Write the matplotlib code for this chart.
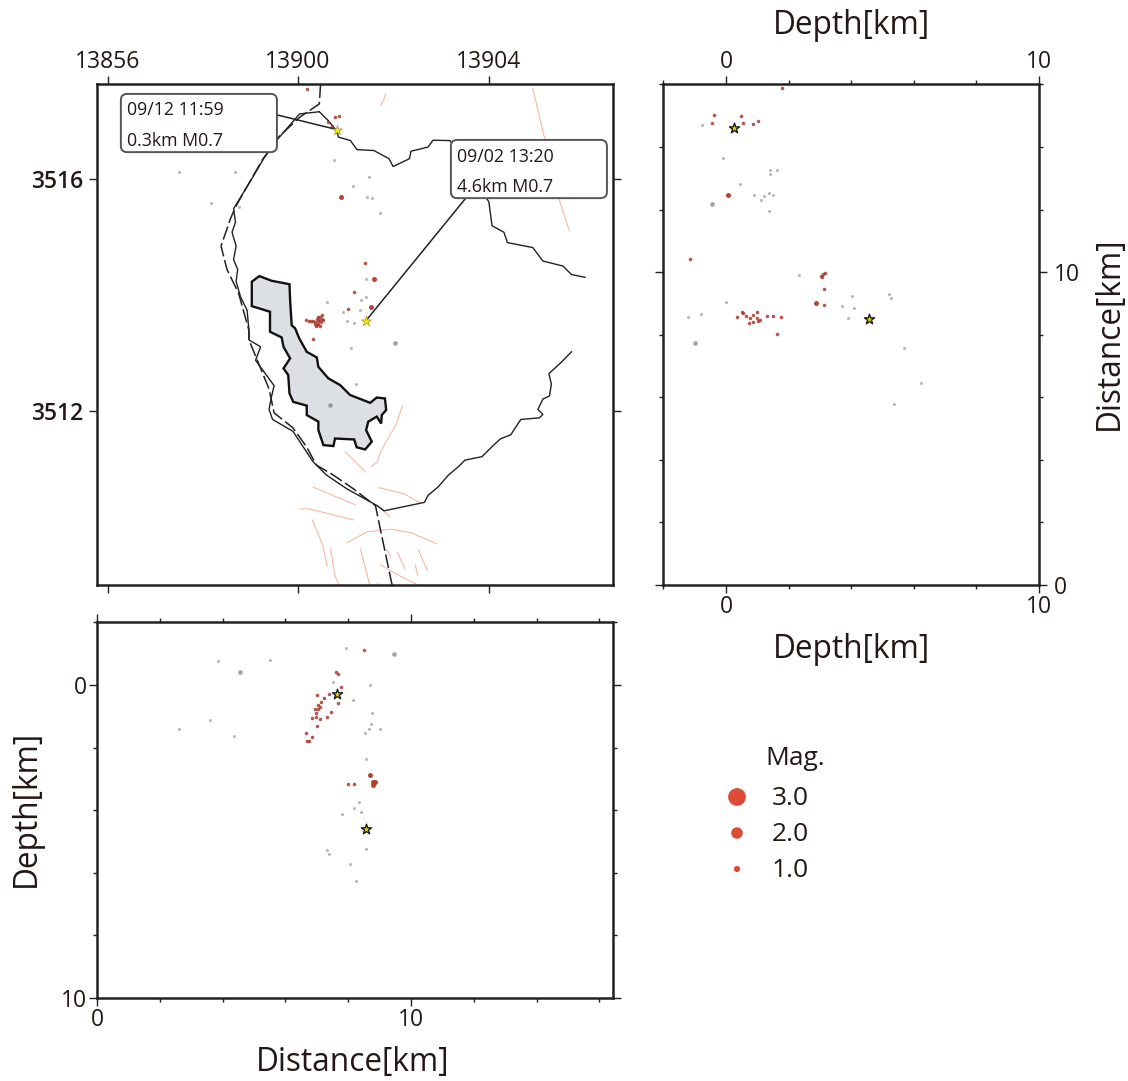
import matplotlib
matplotlib.use('Agg')
import matplotlib.pyplot as plt
from matplotlib.patches import FancyBboxPatch, Polygon

plt.rcParams['font.family'] = ['Open Sans', 'DejaVu Sans']
ink = '#231815'

W, H = 1128, 1081
KM_X = 31.4
KM_Y = 31.3

# map outlines, km from the lower left corner of the map
coast_x = [7.08, 6.45, 5.75, 5.32, 5.16, 4.84, 4.35, 4.41, 4.30, 4.43, 4.35, 4.48, 4.43, 4.57, 4.78, 4.84, 4.84, 5.21, 5.05, 5.64, 5.54, 5.48, 5.59, 6.24, 6.88, 7.31, 7.96, 8.93, 9.14, 10.43, 10.54, 10.86, 11.19, 11.51, 11.72, 12.26, 12.58, 12.85, 13.18, 13.28, 13.50, 14.09, 14.20, 14.04, 14.20, 14.41, 14.47, 14.39, 14.79, 15.11]
coast_y = [15.12, 15.05, 14.24, 13.64, 13.37, 12.83, 12.02, 11.59, 11.27, 10.83, 10.40, 10.08, 9.70, 9.21, 8.78, 8.13, 7.83, 7.61, 7.18, 6.37, 5.94, 5.61, 5.29, 4.91, 3.94, 3.51, 3.07, 2.53, 2.37, 2.64, 2.86, 3.13, 3.51, 3.78, 3.99, 4.10, 4.42, 4.67, 4.80, 4.96, 5.29, 5.34, 5.45, 5.61, 5.94, 6.04, 6.42, 6.75, 7.12, 7.45]
north_x = [7.08, 7.37, 7.63, 7.69, 8.07, 8.28, 8.82, 9.30, 9.43, 9.95, 10.00, 10.54, 10.70, 11.24, 12.48, 12.58, 12.96, 13.07, 13.88, 14.20, 14.84, 15.11, 15.54]
north_y = [15.12, 14.83, 14.51, 14.31, 14.20, 13.91, 13.88, 13.62, 13.37, 13.62, 13.86, 13.99, 14.21, 14.20, 12.24, 11.48, 11.27, 10.94, 10.78, 10.35, 10.19, 9.92, 9.83]
border_x = [7.12, 7.08, 6.45, 5.81, 5.27, 4.41, 4.25, 3.95, 4.14, 4.51, 4.84, 4.84, 5.48, 5.64, 6.24, 6.67, 6.99, 7.53, 8.17, 8.87, 8.98, 9.41]
border_y = [16.0, 15.37, 14.94, 14.34, 13.59, 12.08, 11.70, 10.83, 10.08, 9.32, 8.13, 7.83, 6.26, 5.50, 5.02, 4.42, 3.83, 3.51, 3.07, 2.53, 1.99, -0.06]
area_x = [4.93, 5.17, 5.56, 6.13, 6.15, 6.20, 6.31, 6.44, 6.68, 7.0, 7.05, 7.37, 7.74, 8.06, 8.70, 8.91, 9.17, 9.21, 9.07, 9.05, 8.91, 8.64, 8.57, 8.75, 8.54, 8.27, 8.19, 7.58, 7.53, 7.21, 7.05, 7.05, 6.68, 6.68, 6.25, 6.13, 6.09, 5.94, 6.15, 5.94, 5.88, 5.51, 5.51, 4.93]
area_y = [9.69, 9.87, 9.72, 9.61, 9.10, 8.30, 8.20, 7.88, 7.45, 7.27, 6.97, 6.60, 6.39, 6.07, 5.82, 5.99, 5.96, 5.59, 5.43, 5.16, 5.38, 5.22, 4.95, 4.58, 4.33, 4.40, 4.65, 4.68, 4.44, 4.47, 4.95, 5.22, 5.43, 5.73, 5.85, 6.12, 6.71, 6.92, 7.24, 7.61, 7.91, 8.09, 8.73, 8.91]
faults = [
    ([13.88, 14.25, 14.74, 15.04], [15.86, 14.29, 12.24, 11.32]),
    ([9.20, 9.05], [15.69, 15.32]),
    ([9.73, 9.52, 9.03, 8.93, 8.73], [5.72, 5.12, 4.26, 3.94, 3.78]),
    ([7.90, 8.55], [4.26, 3.61]),
    ([6.88, 8.23], [3.13, 2.56]),
    ([6.45, 6.77, 8.17], [2.43, 2.43, 2.08]),
    ([8.98, 9.79, 10.27], [3.11, 2.91, 2.64]),
    ([8.93, 9.34], [2.53, 2.18]),
    ([7.96, 8.60, 9.36, 10.0, 10.81], [1.35, 1.70, 1.78, 1.67, 1.32]),
    ([6.86, 7.20, 7.33], [2.08, 1.24, 0.59]),
    ([7.44, 7.58, 7.76], [1.15, 0.27, -0.1]),
    ([8.39, 8.71], [1.15, -0.1]),
    ([9.57, 9.81], [1.04, 0.51]),
    ([10.24, 10.52], [1.11, 0.46]),
    ([10.13, 10.22], [0.64, 0.29]),
    ([9.03, 9.79, 10.43], [0.64, 0.21, -0.1]),
    ([8.93, 9.12], [0.05, -0.1]),
    ([9.23, 9.34], [1.13, 0.91]),
]

# events on the map
map_red_x = [6.70, 7.58, 7.72, 7.37, 7.47, 8.52, 8.19, 7.99, 6.88, 6.67, 6.83, 6.94, 7.04, 7.15, 7.20, 7.01, 7.10, 6.97, 7.12, 7.08, 7.0, 6.95, 7.05, 7.15, 7.05, 7.10, 6.88, 6.75]
map_red_y = [15.86, 14.96, 14.98, 14.78, 14.67, 10.29, 9.37, 8.81, 7.86, 8.46, 8.44, 8.40, 8.57, 8.62, 8.46, 8.30, 8.26, 8.26, 8.40, 8.48, 8.51, 8.35, 8.35, 8.50, 8.45, 8.55, 8.42, 8.45]
map_red_big_x = [7.77, 8.82, 8.73]
map_red_big_y = [12.40, 9.78, 8.87]
map_gray_x = [2.61, 4.39, 3.63, 4.51, 7.55, 8.66, 8.15, 8.60, 8.76, 9.01, 8.58, 8.57, 8.42, 7.31, 8.39, 7.82, 7.96, 8.19, 8.09, 8.26]
map_gray_y = [13.21, 13.18, 12.22, 12.08, 13.59, 13.05, 12.76, 12.40, 12.37, 11.89, 9.79, 9.19, 9.11, 9.05, 8.78, 8.73, 8.43, 8.38, 7.56, 6.42]
map_gray_big_x = [9.50, 7.42]
map_gray_big_y = [7.72, 5.75]
map_star_x = [7.64, 8.57]
map_star_y = [14.55, 8.45]

# events, depth against north-south distance
ns_red_d = [1.78, -0.38, 0.47, -0.44, 0.55, 0.87, 1.01, -1.16, 3.06, 3.11, 3.02, 3.16, 3.12, 3.12, 1.0, 0.50, 0.55, 0.63, 0.85, 0.34, 0.77, 0.98, 0.73, 0.87, 1.03, 1.08, 1.32, 1.50, 1.77, 1.62]
ns_red_y = [15.90, 15.04, 15.0, 14.77, 14.77, 14.75, 14.82, 10.43, 9.85, 9.93, 9.87, 9.97, 9.47, 8.94, 8.73, 8.73, 8.68, 8.60, 8.62, 8.56, 8.52, 8.52, 8.39, 8.41, 8.44, 8.46, 8.61, 8.59, 8.57, 8.02]
ns_red_big_d = [0.07, 2.86]
ns_red_big_y = [12.48, 9.0]
ns_gray_d = [-0.78, -0.11, 1.40, 1.40, 1.62, 0.45, 0.89, 1.21, 1.38, 1.51, 1.12, 1.37, 2.34, 4.03, 5.22, 5.26, 3.72, 4.10, 3.91, -0.01, -1.20, -0.81, 5.70, 6.22, 5.38]
ns_gray_y = [14.71, 13.66, 13.28, 13.13, 13.26, 12.83, 12.46, 12.43, 12.54, 12.48, 12.30, 11.97, 9.90, 9.24, 9.31, 9.18, 8.91, 8.87, 8.52, 9.04, 8.57, 8.65, 7.57, 6.46, 5.80]
ns_gray_big_d = [-0.46, -0.99]
ns_gray_big_y = [12.19, 7.73]
ns_star_d = [0.26, 4.56]
ns_star_y = [14.6, 8.49]

# events, east-west distance against depth
ew_red_x = [8.49, 7.62, 7.69, 7.76, 7.02, 7.40, 7.24, 7.67, 7.13, 7.05, 7.11, 6.95, 7.05, 6.98, 7.44, 7.32, 6.86, 6.97, 7.11, 7.0, 6.67, 6.86, 6.68, 6.76, 7.98, 8.19]
ew_red_d = [-1.13, -0.43, -0.36, 0.07, 0.33, 0.28, 0.40, 0.58, 0.53, 0.64, 0.71, 0.77, 0.77, 0.90, 0.86, 1.02, 1.05, 1.03, 1.09, 1.32, 1.52, 1.65, 1.80, 1.80, 3.15, 3.15]
ew_red_big_x = [8.70, 8.78, 8.84, 8.79]
ew_red_big_d = [2.89, 3.09, 3.09, 3.19]
ew_gray_x = [3.85, 5.51, 7.93, 7.53, 8.70, 8.15, 8.75, 8.72, 8.67, 9.0, 8.54, 3.61, 2.61, 4.37, 8.57, 8.35, 8.17, 8.40, 7.80, 8.56, 7.31, 7.40, 8.07, 8.25]
ew_gray_d = [-0.77, -0.79, -1.17, -0.08, 0.0, 0.48, 0.90, 1.26, 1.41, 1.39, 1.52, 1.12, 1.40, 1.62, 2.35, 3.74, 3.94, 4.05, 4.13, 5.24, 5.27, 5.41, 5.72, 6.25]
ew_gray_big_x = [4.54, 9.47]
ew_gray_big_d = [-0.43, -0.98]
ew_star_x = [7.64, 8.56]
ew_star_d = [0.28, 4.59]

lon_tick_km = [0.35, 6.40, 12.47]
lon_labels = ['13856', '13900', '13904']
lat_tick_km = [5.56, 12.97]
lat_labels = ['3512', '3516']

callout_text = [['09/12 11:59', '0.3km M0.7'], ['09/02 13:20', '4.6km M0.7']]
legend_mags = [3.0, 2.0, 1.0]
legend_sizes = [163, 69, 20]


def panel(left, right, top, bottom):
    ax = fig.add_axes([left / W, 1 - bottom / H, (right - left) / W, (bottom - top) / H])
    for s in ax.spines.values():
        s.set_linewidth(1.8)
        s.set_color('#222222')
    ax.tick_params(which='major', length=5.5, width=1.0, color='#222222', labelsize=16.5, labelcolor=ink,
                   top=True, right=True, pad=2)
    ax.tick_params(which='minor', length=3, width=1.0, color='#222222', top=True, right=True)
    return ax


def events(ax, rx, ry, rbx, rby, gx, gy, gbx, gby):
    ax.scatter(gx, gy, s=4.5, color='#8a8a8a', alpha=0.65, linewidths=0, zorder=3)
    ax.scatter(gbx, gby, s=11, color='#8a8a8a', alpha=0.8, linewidths=0, zorder=3)
    ax.scatter(rx, ry, s=6.5, color='#a83a2e', alpha=0.85, linewidths=0, zorder=3)
    ax.scatter(rbx, rby, s=13, color='#b23c2e', alpha=0.95, linewidths=0, zorder=3)


fig = plt.figure(figsize=(W / 100, H / 100), dpi=100)

# map
ax = panel(97, 612.5, 84, 585)
ax.set_xlim(0, 515.5 / KM_X)
ax.set_ylim(0, 501 / KM_Y)
for fx, fy in faults:
    ax.plot(fx, fy, color='#f6b9a9', lw=0.8, zorder=1)
ax.plot(coast_x, coast_y, color='#222222', lw=1.0, zorder=2)
ax.plot(north_x, north_y, color='#222222', lw=1.0, zorder=2)
ax.plot(border_x, border_y, color='#222222', lw=1.1, linestyle=(0, (9, 2.5)), zorder=2)
ax.add_patch(Polygon(list(zip(area_x, area_y)), closed=True, facecolor='#dce0e4', edgecolor='#111111', lw=1.7, zorder=2))
events(ax, map_red_x, map_red_y, map_red_big_x, map_red_big_y, map_gray_x, map_gray_y, map_gray_big_x, map_gray_big_y)
ax.scatter(map_star_x, map_star_y, marker='*', s=55, color='#f6e600', edgecolors='#8a8a30', linewidths=0.4, zorder=5)
ax.set_xticks(lon_tick_km, lon_labels)
ax.set_yticks(lat_tick_km, lat_labels)
ax.tick_params(axis='x', labeltop=True, labelbottom=False)
ax.tick_params(axis='y', which='major', pad=4.5)
for t in ax.get_yticklabels():
    t.set_fontweight('semibold')
    t.set_fontsize(16.5)

# callouts
ax.plot([5.73, map_star_x[0]], [15.02, map_star_y[0]], color='#222222', lw=1.1, zorder=4)
ax.plot([11.72, map_star_x[1]], [12.33, map_star_y[1]], color='#222222', lw=1.1, zorder=4)
for bx, by, lines in [(0.76, 13.83, callout_text[0]), (11.27, 12.36, callout_text[1])]:
    ax.add_patch(FancyBboxPatch((bx, by), 4.97, 1.86, boxstyle='round,pad=0,rounding_size=0.2', facecolor='white',
                                edgecolor='#555555', lw=1.4, zorder=6))
    ax.text(bx + 0.2, by + 1.33, lines[0], fontsize=12.8, color=ink, va='center', zorder=7)
    ax.text(bx + 0.2, by + 0.37, lines[1], fontsize=12.8, color=ink, va='center', zorder=7)

# depth against distance, right hand panel
ax = panel(663, 1039, 84.5, 585)
ax.set_xlim(-63 / KM_Y, 10)
ax.set_ylim(0, 500.5 / KM_Y)
events(ax, ns_red_d, ns_red_y, ns_red_big_d, ns_red_big_y, ns_gray_d, ns_gray_y, ns_gray_big_d, ns_gray_big_y)
ax.scatter(ns_star_d, ns_star_y, marker='*', s=60, color='#d8d000', edgecolors='#111111', linewidths=0.9, zorder=5)
ax.set_xticks([0, 10])
ax.set_xticks([-2, 2, 4, 6, 8], minor=True)
ax.set_yticks([0, 10])
ax.set_yticks([2, 4, 6, 8, 12, 14, 16], minor=True)
ax.tick_params(axis='x', labeltop=True)
ax.tick_params(axis='y', labelleft=False, labelright=True, pad=5)

# distance against depth, lower panel
ax = panel(97, 613, 622, 998)
ax.set_xlim(0, 516 / KM_X)
ax.set_ylim(10, -63 / KM_Y)
events(ax, ew_red_x, ew_red_d, ew_red_big_x, ew_red_big_d, ew_gray_x, ew_gray_d, ew_gray_big_x, ew_gray_big_d)
ax.scatter(ew_star_x, ew_star_d, marker='*', s=60, color='#d8d000', edgecolors='#111111', linewidths=0.9, zorder=5)
ax.set_xticks([0, 10])
ax.set_xticks([2, 4, 6, 8, 12, 14, 16], minor=True)
ax.set_yticks([0, 10])
ax.set_yticks([-2, 2, 4, 6, 8], minor=True)

# magnitude legend
ax = fig.add_axes([700 / W, 1 - 887 / H, 150 / W, 108 / H])
ax.axis('off')
ax.set_xlim(0, 150)
ax.set_ylim(0.5, 3.5)
ax.scatter([37] * 3, [3, 2, 1], s=legend_sizes, color='#dc4b38', linewidths=0, clip_on=False)
for m, y in zip(legend_mags, [3, 2, 1]):
    ax.text(72, y - 0.05, f'{m:.1f}', fontsize=19, color=ink, va='center', ha='left')
ax.text(65, 4.06, 'Mag.', fontsize=19, color=ink, va='center', ha='left', clip_on=False)

# axis titles
fig.text(851 / W, 1 - 26 / H, 'Depth[km]', fontsize=22.8, color=ink, ha='center', va='center')
fig.text(851 / W, 1 - 650 / H, 'Depth[km]', fontsize=22.8, color=ink, ha='center', va='center')
fig.text(353 / W, 1 - 1062 / H, 'Distance[km]', fontsize=22.8, color=ink, ha='center', va='center')
fig.text(1109 / W, 1 - 333 / H, 'Distance[km]', fontsize=22.8, color=ink, ha='center', va='center', rotation=90)
fig.text(26 / W, 1 - 808 / H, 'Depth[km]', fontsize=22.8, color=ink, ha='center', va='center', rotation=90)

fig.savefig('out.png', dpi=100)
